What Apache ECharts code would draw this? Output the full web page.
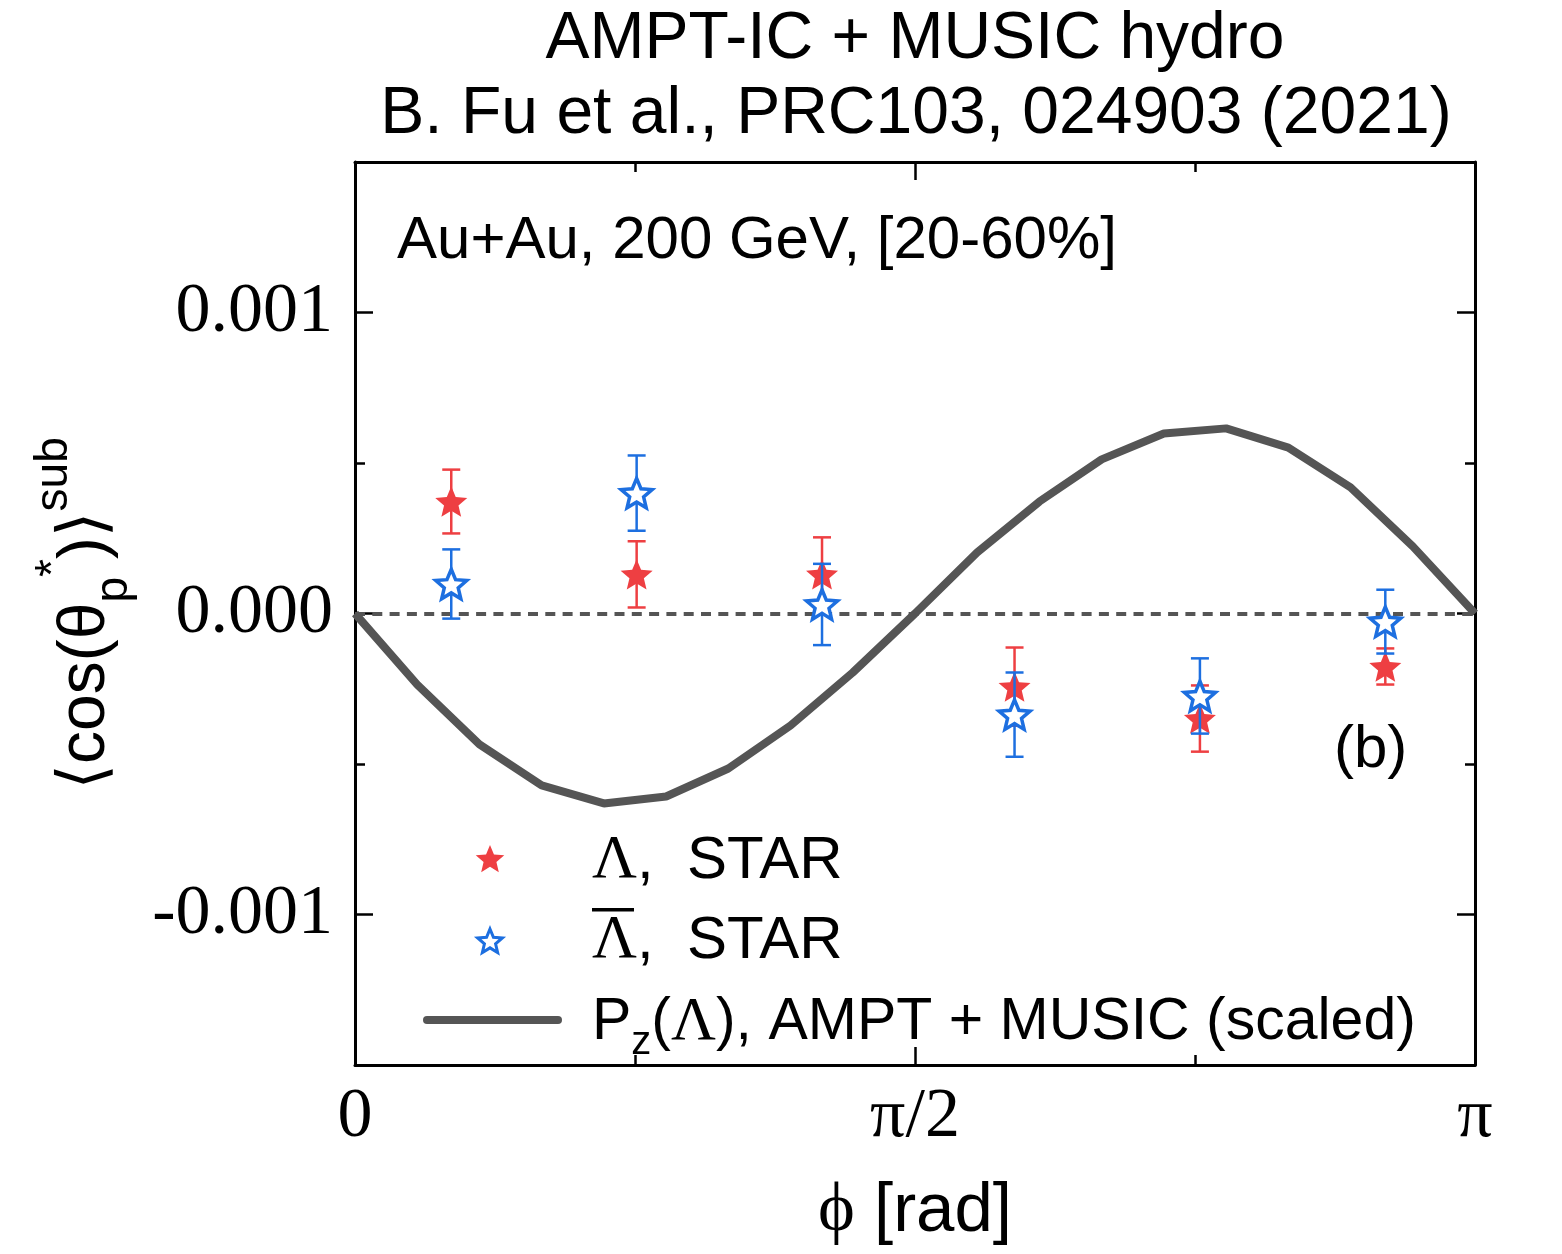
<!DOCTYPE html>
<html>
<head>
<meta charset="utf-8">
<script src="https://cdn.jsdelivr.net/npm/echarts@6/dist/echarts.min.js"></script>
<style>
  html, body { margin: 0; padding: 0; background: #fff; }
  #chart { width: 1562px; height: 1254px; }
</style>
</head>
<body>
<div id="chart"></div>
<script>
  const PI = Math.PI;

  // STAR, Lambda
  const lamPhi = [0.27, 0.79, 1.31, 1.85, 2.37, 2.89];
  const lamVal = [0.000372, 0.00013, 0.00013, -0.000243, -0.000349, -0.000176];
  const lamErr = [0.000106, 0.00011, 0.000123, 0.00013, 0.00011, 0.00006];

  // STAR, anti-Lambda
  const alamPhi = [0.27, 0.79, 1.31, 1.85, 2.37, 2.89];
  const alamVal = [0.000098, 0.0004, 0.00003, -0.000336, -0.000274, -0.000027];
  const alamErr = [0.000115, 0.000125, 0.000135, 0.00014, 0.000125, 0.000106];

  // Pz(Lambda), AMPT + MUSIC (scaled)
  const modelPhi = [0, 0.1745, 0.3491, 0.5236, 0.6981, 0.8727, 1.0472, 1.2217, 1.3963, 1.5708,
                    1.7453, 1.9199, 2.0944, 2.2689, 2.4435, 2.6180, 2.7925, 2.9671, 3.1416];
  const modelVal = [0, -0.000236, -0.000435, -0.000571, -0.000631, -0.000608, -0.000515, -0.000372, -0.000196, 0,
                    0.000203, 0.000372, 0.000512, 0.000598, 0.000615, 0.000551, 0.000419, 0.000223, 0];

  const yMajor = [-0.001, 0, 0.001];
  const yMinor = [-0.0005, 0.0005];

  const RED = '#ee3f42';
  const BLUE = '#1d6fe0';
  const GREY = '#555555';

  // star outline, unit points
  function starPts(inner) {
    const pts = [];
    for (let i = 0; i < 10; i++) {
      const r = i % 2 ? inner : 1;
      const a = -PI / 2 + i * PI / 5;
      pts.push([r * Math.cos(a), r * Math.sin(a)]);
    }
    return pts;
  }
  const STAR_PTS = starPts(0.45);
  const STAR = STAR_PTS.map((p, i) => (i ? 'L' : 'M') + (50 + 50 * p[0]).toFixed(2) + ' ' + (50 + 50 * p[1]).toFixed(2)).join(' ') + ' Z';
  function starAt(cx, cy, r) {
    return STAR_PTS.map(p => [cx + r * p[0], cy + r * p[1]]);
  }

  function errBars(color) {
    return function (params, api) {
      const x = api.value(0), y = api.value(1), e = api.value(2);
      const t = api.coord([x, y + e]);
      const b = api.coord([x, y - e]);
      const w = 9;
      const st = { stroke: color, lineWidth: 2.5 };
      return {
        type: 'group',
        children: [
          { type: 'line', shape: { x1: t[0], y1: t[1], x2: b[0], y2: b[1] }, style: st },
          { type: 'line', shape: { x1: t[0] - w, y1: t[1], x2: t[0] + w, y2: t[1] }, style: st },
          { type: 'line', shape: { x1: b[0] - w, y1: b[1], x2: b[0] + w, y2: b[1] }, style: st }
        ]
      };
    };
  }

  const serif = 'Liberation Serif';
  const sans = 'Liberation Sans';

  function xLabel(v) {
    if (Math.abs(v) < 1e-6) return '0';
    if (Math.abs(v - PI / 2) < 1e-6) return 'π/2';
    if (Math.abs(v - PI) < 1e-6) return 'π';
    return '';
  }

  const tickStyle = { color: '#000', width: 2.5 };
  const frame = { show: true, onZero: false, lineStyle: { color: '#000', width: 3 } };

  let myChart = echarts.init(document.getElementById('chart'));
  myChart.setOption({
    backgroundColor: '#fff',
    animation: false,
    grid: { left: 355, right: 87, top: 162, bottom: 189 },
    xAxis: [
      {
        type: 'value', position: 'bottom', min: 0, max: PI, interval: PI / 2,
        axisLine: frame,
        axisTick: { inside: true, length: 18, lineStyle: tickStyle },
        minorTick: { show: true, splitNumber: 2, length: 10, lineStyle: tickStyle },
        splitLine: { show: false },
        axisLabel: { formatter: xLabel, fontFamily: serif, fontSize: 70, color: '#000', margin: 18 },
        name: '{p|ϕ}{r| [rad]}', nameLocation: 'middle', nameGap: 112,
        nameTextStyle: {
          rich: {
            p: { fontFamily: serif, fontSize: 70, color: '#000' },
            r: { fontFamily: sans, fontSize: 69, color: '#000' }
          }
        }
      },
      {
        type: 'value', position: 'top', min: 0, max: PI, interval: PI / 2,
        axisLine: frame,
        axisTick: { inside: true, length: 18, lineStyle: tickStyle },
        minorTick: { show: true, splitNumber: 2, length: 10, lineStyle: tickStyle },
        splitLine: { show: false },
        axisLabel: { show: false }
      }
    ],
    yAxis: [
      {
        type: 'value', position: 'left', min: -0.0015, max: 0.0015,
        axisLine: frame,
        axisTick: { inside: true, length: 18, lineStyle: tickStyle, customValues: yMajor },
        splitLine: { show: false },
        axisLabel: {
          customValues: yMajor, formatter: v => v.toFixed(3),
          fontFamily: serif, fontSize: 70, color: '#000', margin: 22
        },
        name: '{a|⟨cos(θ}{b|p}{c|*}{a|)⟩}{c|sub}',
        nameLocation: 'middle', nameRotate: 90, nameGap: 206,
        nameTextStyle: {
          rich: {
            a: { fontFamily: sans + ', DejaVu Sans', fontSize: 66, color: '#000', lineHeight: 110, verticalAlign: 'middle' },
            b: { fontFamily: sans, fontSize: 46, color: '#000', lineHeight: 110, verticalAlign: 'bottom', padding: [0, 0, 4, 0] },
            c: { fontFamily: sans, fontSize: 46, color: '#000', lineHeight: 110, verticalAlign: 'top' }
          }
        }
      },
      {
        type: 'value', position: 'right', min: -0.0015, max: 0.0015,
        axisLine: frame,
        axisTick: { inside: true, length: 18, lineStyle: tickStyle, customValues: yMajor },
        splitLine: { show: false },
        axisLabel: { show: false }
      },
      {
        type: 'value', position: 'left', min: -0.0015, max: 0.0015,
        axisLine: { show: false, onZero: false },
        axisTick: { inside: true, length: 10, lineStyle: tickStyle, customValues: yMinor },
        splitLine: { show: false },
        axisLabel: { show: false }
      },
      {
        type: 'value', position: 'right', min: -0.0015, max: 0.0015,
        axisLine: { show: false, onZero: false },
        axisTick: { inside: true, length: 10, lineStyle: tickStyle, customValues: yMinor },
        splitLine: { show: false },
        axisLabel: { show: false }
      }
    ],
    series: [
      {
        name: 'model', type: 'line',
        data: modelPhi.map((p, i) => [p, modelVal[i]]),
        showSymbol: false, z: 2,
        lineStyle: { color: GREY, width: 8 },
        markLine: {
          silent: true, symbol: 'none', label: { show: false },
          lineStyle: { color: GREY, width: 4, type: [10, 7.3] },
          data: [{ yAxis: 0 }]
        }
      },
      {
        name: 'lamErr', type: 'custom', z: 3,
        renderItem: errBars(RED),
        data: lamPhi.map((p, i) => [p, lamVal[i], lamErr[i]]),
        encode: { x: 0, y: 1 }
      },
      {
        name: 'lam', type: 'scatter', z: 4,
        data: lamPhi.map((p, i) => [p, lamVal[i]]),
        symbol: 'path://' + STAR, symbolKeepAspect: true, symbolSize: 32,
        itemStyle: { color: RED, opacity: 1 }
      },
      {
        name: 'alamErr', type: 'custom', z: 5,
        renderItem: errBars(BLUE),
        data: alamPhi.map((p, i) => [p, alamVal[i], alamErr[i]]),
        encode: { x: 0, y: 1 }
      },
      {
        name: 'alam', type: 'scatter', z: 6,
        data: alamPhi.map((p, i) => [p, alamVal[i]]),
        symbol: 'path://' + STAR, symbolKeepAspect: true, symbolSize: 31,
        itemStyle: { color: '#fff', borderColor: BLUE, borderWidth: 3.5, opacity: 1 }
      }
    ],
    graphic: [
      {
        type: 'text', x: 915, y: 40,
        style: { text: 'AMPT-IC + MUSIC hydro', font: '66px "Liberation Sans"', fill: '#000', textAlign: 'center', textVerticalAlign: 'middle' }
      },
      {
        type: 'text', x: 916, y: 115,
        style: { text: 'B. Fu et al., PRC103, 024903 (2021)', font: '66px "Liberation Sans"', fill: '#000', textAlign: 'center', textVerticalAlign: 'middle' }
      },
      {
        type: 'text', x: 397, y: 241,
        style: { text: 'Au+Au, 200 GeV, [20-60%]', font: '60px "Liberation Sans"', fill: '#000', textAlign: 'left', textVerticalAlign: 'middle' }
      },
      {
        type: 'text', x: 1334, y: 750,
        style: { text: '(b)', font: '60px "Liberation Sans"', fill: '#000', textAlign: 'left', textVerticalAlign: 'middle' }
      },
      // legend
      {
        type: 'polygon', z: 10,
        shape: { points: starAt(490, 860, 15) },
        style: { fill: RED }
      },
      {
        type: 'polygon', z: 10,
        shape: { points: starAt(490, 942, 13) },
        style: { fill: '#fff', stroke: BLUE, lineWidth: 3 }
      },
      {
        type: 'text', x: 592, y: 861,
        style: {
          text: '{g|Λ}{s|,  STAR}', textVerticalAlign: 'middle',
          rich: {
            g: { fontFamily: serif, fontSize: 62, fill: '#000' },
            s: { fontFamily: sans, fontSize: 60, fill: '#000' }
          }
        }
      },
      {
        type: 'text', x: 592, y: 941,
        style: {
          text: '{g|Λ}{s|,  STAR}', textVerticalAlign: 'middle',
          rich: {
            g: { fontFamily: serif, fontSize: 62, fill: '#000' },
            s: { fontFamily: sans, fontSize: 60, fill: '#000' }
          }
        }
      },
      {
        type: 'rect', shape: { x: 592, y: 908, width: 42, height: 3.5 }, style: { fill: '#000' }
      },
      {
        type: 'line', shape: { x1: 427, y1: 1020, x2: 558, y2: 1020 },
        style: { stroke: GREY, lineWidth: 8, lineCap: 'round' }
      },
      {
        type: 'text', x: 592, y: 1023,
        style: {
          text: '{s|P}{z|z}{s|(}{g|Λ}{s|), AMPT + MUSIC (scaled)}', textVerticalAlign: 'middle',
          rich: {
            g: { fontFamily: serif, fontSize: 62, fill: '#000', lineHeight: 80, verticalAlign: 'middle' },
            s: { fontFamily: sans, fontSize: 59, fill: '#000', lineHeight: 80, verticalAlign: 'middle' },
            z: { fontFamily: sans, fontSize: 40, fill: '#000', lineHeight: 80, verticalAlign: 'bottom' }
          }
        }
      }
    ]
  });
</script>
</body>
</html>
